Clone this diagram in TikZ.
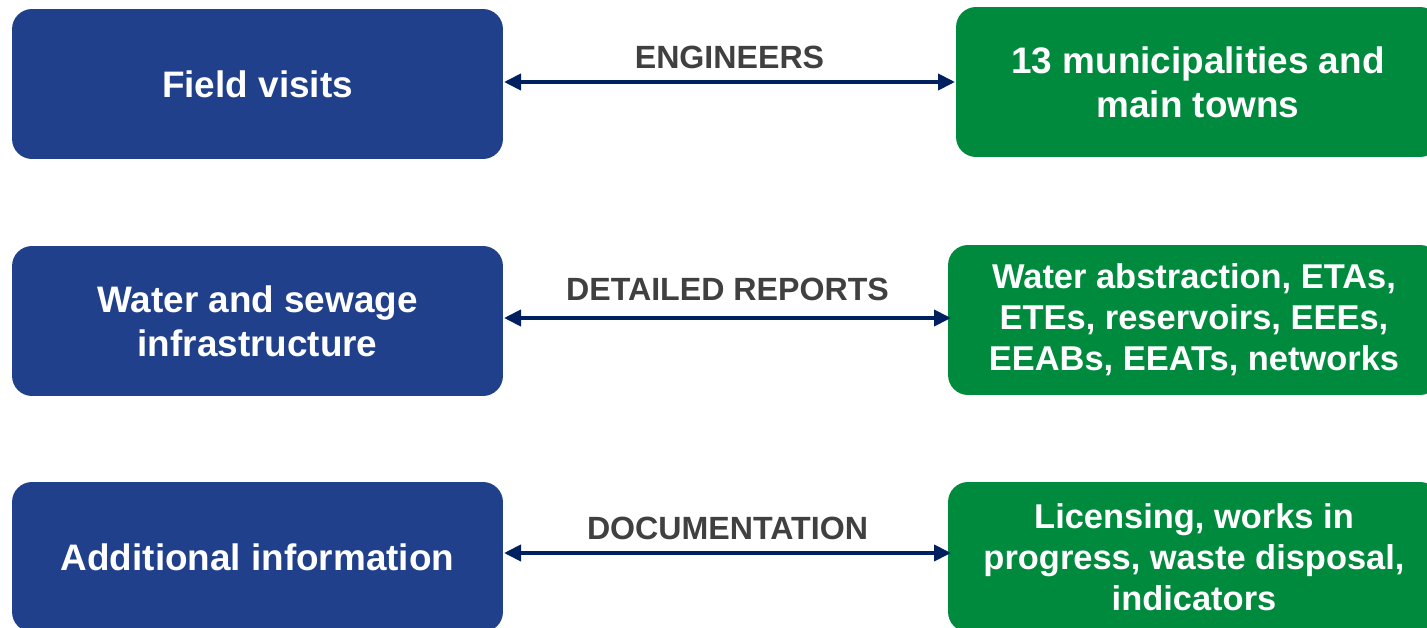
\documentclass[tikz,border=0pt]{standalone}
\usepackage{fontspec}
\setmainfont{Liberation Sans}
\usetikzlibrary{arrows.meta}
\definecolor{boxblue}{RGB}{32,64,140}
\definecolor{boxgreen}{RGB}{0,138,62}
\definecolor{arrownavy}{RGB}{0,32,96}
\definecolor{tagray}{RGB}{64,64,64}

\begin{document}
\begin{tikzpicture}[x=0.02cm,y=-0.02cm,
  box/.style={rounded corners=0.4cm, text=white, align=center, inner sep=0pt,
    minimum height=3cm, font=\bfseries},
  topic/.style={box, fill=boxblue, minimum width=9.82cm},
  item/.style={box, fill=boxgreen, minimum width=9.84cm},
  big/.style={font=\fontsize{21}{25}\selectfont\bfseries},
  mid/.style={font=\fontsize{19.6}{23.3}\selectfont\bfseries},
  link/.style={{Triangle[length=0.34cm,width=0.32cm]}-{Triangle[length=0.34cm,width=0.32cm]},
    line width=2.2pt, draw=arrownavy},
  tag/.style={text=tagray, inner sep=0pt, font=\fontsize{18.3}{21}\selectfont\bfseries}]
\useasboundingbox (0,0) rectangle (1427,628);
\clip (0,0) rectangle (1427,628);

\node[topic,big] (t1) at (257.5,84) {Field visits};
\node[topic,big] (t2) at (257.5,321) {Water and sewage\\infrastructure};
\node[topic,big] (t3) at (257.5,557) {Additional information};

\node[item,big,minimum width=9.68cm] (i1) at (1198,82) {13 municipalities and\\main towns};
\node[item,mid] (i2) at (1194,320) {Water abstraction, ETAs,\\ETEs, reservoirs, EEEs,\\EEABs, EEATs, networks};
\node[item,mid] (i3) at (1194,557) {Licensing, works in\\progress, waste disposal,\\indicators};

\coordinate (a1) at (504,82);  \coordinate (b1) at (955,82);
\coordinate (a2) at (504,318); \coordinate (b2) at (951,318);
\coordinate (a3) at (504,553); \coordinate (b3) at (951,553);

\draw[link] (a1) -- node[tag,above=0.22cm] {ENGINEERS} (b1);
\draw[link] (a2) -- node[tag,above=0.30cm] {DETAILED REPORTS} (b2);
\draw[link] (a3) -- node[tag,above=0.22cm] {DOCUMENTATION} (b3);
\end{tikzpicture}
\end{document}
